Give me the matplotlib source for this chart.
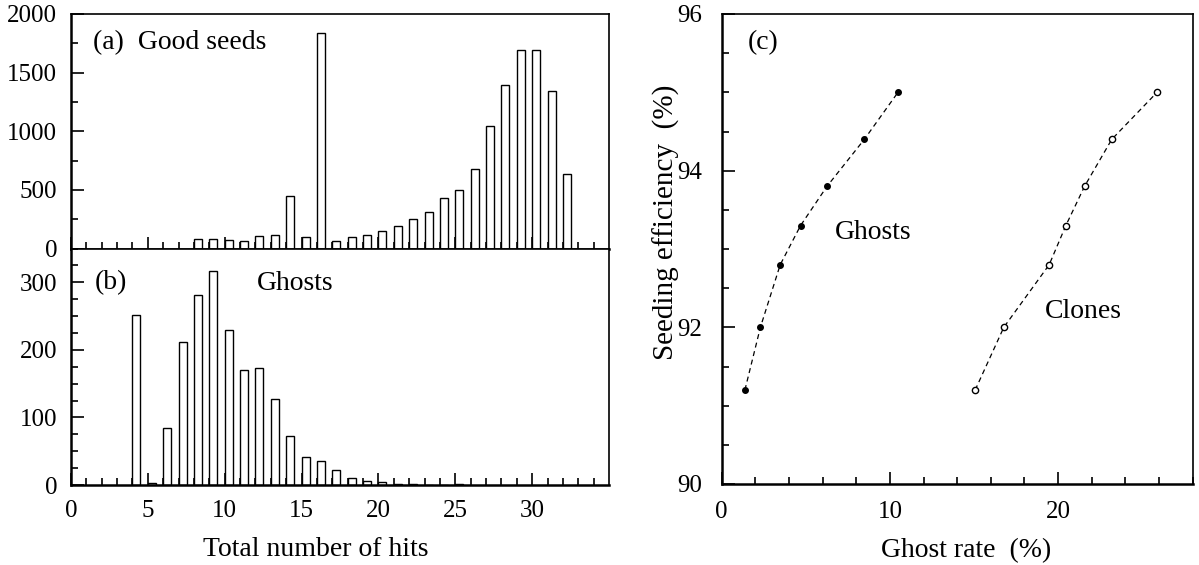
import numpy as np
import matplotlib
matplotlib.use("Agg")
import matplotlib.pyplot as plt
from matplotlib.ticker import MultipleLocator, FixedLocator

# (a) good seeds: hit counts per number of hits
good_hits = list(range(8, 33))
good_counts = [80, 80, 75, 63, 108, 114, 444, 94, 1841, 68, 97, 114, 151,
               196, 248, 313, 430, 503, 677, 1041, 1391, 1693, 1696, 1346, 634]

# (b) ghosts
ghost_hits = list(range(4, 26))
ghost_counts = [251, 3, 85, 212, 281, 316, 229, 170, 173, 127, 72, 42, 36,
                22, 11, 6, 4, 2, 1, 0, 0, 1]

# (c) seeding efficiency vs ghost / clone rate
efficiency = [91.2, 92.0, 92.8, 93.3, 93.8, 94.4, 95.0]
ghost_rate = [1.38, 2.30, 3.48, 4.69, 6.26, 8.48, 10.48]
clone_rate = [15.07, 16.77, 19.47, 20.46, 21.57, 23.19, 25.88]

plt.rcParams['font.family'] = ['Liberation Serif', 'DejaVu Serif']

W, H = 1199, 565
fig = plt.figure(figsize=(W / 100, H / 100), dpi=100)


def box(x0, y0, x1, y1):
    # pixel box -> figure fraction
    return [x0 / W, 1 - y1 / H, (x1 - x0) / W, (y1 - y0) / H]


ax_a = fig.add_axes(box(71, 14, 609, 248.5))
ax_b = fig.add_axes(box(71, 248.5, 609, 485))
ax_c = fig.add_axes(box(721.7, 14, 1192.7, 484))

for ax in (ax_a, ax_b, ax_c):
    for s in ax.spines.values():
        s.set_linewidth(1.2)
    ax.spines['left'].set_linewidth(1.8)
    ax.spines['bottom'].set_linewidth(1.8)
    ax.tick_params(which='both', direction='in', top=False, right=False,
                   labelsize=18, width=1.2)
    ax.tick_params(which='major', length=9)
    ax.tick_params(which='minor', length=5)

# histograms
ax_a.bar(good_hits, good_counts, width=0.52, align='edge',
         facecolor='white', edgecolor='black', linewidth=1.0)
ax_b.bar(ghost_hits, ghost_counts, width=0.52, align='edge',
         facecolor='white', edgecolor='black', linewidth=1.0)

for ax in (ax_a, ax_b):
    ax.set_xlim(0, 35)
    ax.xaxis.set_major_locator(FixedLocator([0, 5, 10, 15, 20, 25, 30]))
    ax.xaxis.set_minor_locator(FixedLocator(np.arange(1, 35)))
    ax.tick_params(axis='y', pad=10)
    ax.tick_params(axis='x', pad=11)

ax_a.set_ylim(0, 2000)
ax_a.yaxis.set_major_locator(MultipleLocator(500))
ax_a.yaxis.set_minor_locator(MultipleLocator(250))
ax_a.tick_params(axis='x', labelbottom=False)

ax_b.set_ylim(0, 350)
ax_b.yaxis.set_major_locator(FixedLocator([0, 100, 200, 300]))
ax_b.yaxis.set_minor_locator(MultipleLocator(25))

ax_a.text(1.45, 1760, '(a)  Good seeds', fontsize=20, va='center', ha='left')
ax_b.text(1.56, 300, '(b)', fontsize=20, va='center', ha='left')
ax_b.text(12.1, 298, 'Ghosts', fontsize=20, va='center', ha='left')

# panel (c)
ax_c.plot(ghost_rate, efficiency, ls=(0, (4, 3)), color='black', lw=0.9,
          marker='o', ms=4, mfc='black', mec='black')
ax_c.plot(clone_rate, efficiency, ls=(0, (4, 3)), color='black', lw=0.9,
          marker='o', ms=4.5, mfc='white', mec='black', mew=1.0)
ax_c.set_xlim(0, 28)
ax_c.set_ylim(90, 96)
ax_c.xaxis.set_major_locator(FixedLocator([0, 10, 20]))
ax_c.xaxis.set_minor_locator(MultipleLocator(2))
ax_c.yaxis.set_major_locator(MultipleLocator(2))
ax_c.yaxis.set_minor_locator(MultipleLocator(0.5))
ax_c.tick_params(axis='y', pad=14)
ax_c.tick_params(axis='x', pad=12)

ax_c.text(1.56, 95.63, '(c)', fontsize=20, va='center', ha='left')
ax_c.text(6.73, 93.21, 'Ghosts', fontsize=20, va='center', ha='left')
ax_c.text(19.21, 92.2, 'Clones', fontsize=20, va='center', ha='left')

# axis titles
fig.text(316 / W, 1 - 550 / H, 'Total number of hits', fontsize=20,
         ha='center', va='center')
fig.text(966 / W, 1 - 551 / H, 'Ghost rate  (%)', fontsize=20,
         ha='center', va='center')
fig.text(666 / W, 1 - 222 / H, 'Seeding efficiency  (%)', fontsize=21,
         ha='center', va='center', rotation=90)

fig.savefig('out.png', dpi=100)
